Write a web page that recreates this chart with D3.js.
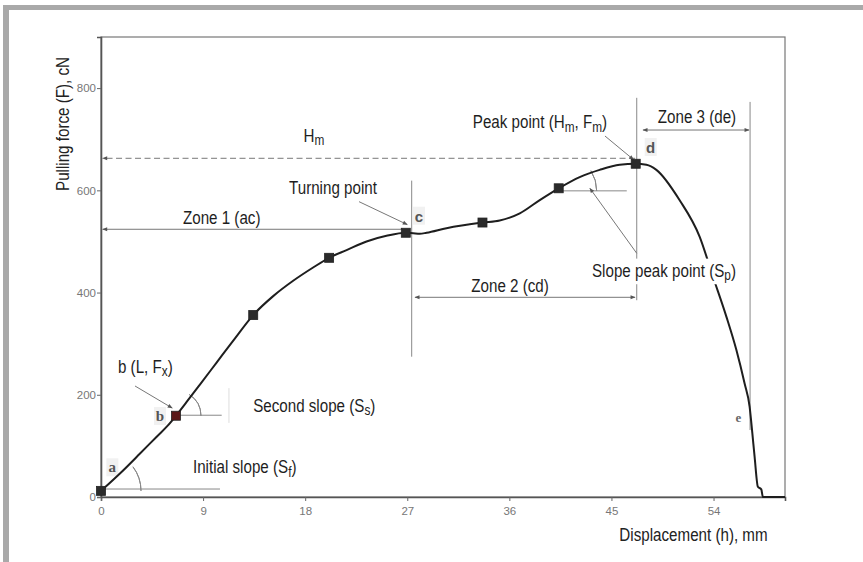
<!DOCTYPE html>
<html>
<head>
<meta charset="utf-8">
<script src="https://d3js.org/d3.v7.min.js"></script>
<style>
  html, body { margin: 0; padding: 0; background: #fff; }
  svg { display: block; }
  .tick text { fill: #777; font-family: "Liberation Sans", Arial, sans-serif; font-size: 11.5px; }
  .tick line { stroke: #666; }
</style>
</head>
<body>
<div id="chart"></div>
<script>
// pulling force vs displacement
const dispX = [0, 1.67, 3.44, 4.91, 5.9, 6.61, 7.55, 8.72, 10.19, 11.66, 13.42, 15.18, 16.94, 18.7, 20.11,
  21.65, 23.41, 25.17, 26.87, 27.52, 28.1, 28.7, 30.46, 33.63, 35.15, 36.92, 38.68, 40.35, 42.2, 43.96,
  45.73, 47.14, 48.08, 48.96, 51, 52.78, 53.95, 55.13, 56.01, 56.74, 57.18, 57.42, 57.62, 57.91, 58.21, 58.35, 60.3];
const forceY = [12, 46, 85, 118, 140, 159, 186, 220, 263, 306, 356, 393, 423, 449, 468,
  483, 500, 511, 517, 516, 515, 517, 526, 537, 541, 555, 581, 604, 626, 640,
  650, 652, 650, 640, 581, 509, 431, 353, 288, 222, 177, 125, 79, 20, 15, 0, 0];

// square markers on the curve (a, b, ..., c, ..., d)
const markerX = [0, 6.61, 13.42, 20.11, 26.87, 33.63, 40.35, 47.14];
const markerY = [12, 159, 356, 468, 517, 537, 604, 652];

const xTicks = [0, 9, 18, 27, 36, 45, 54];
const yTicks = [0, 200, 400, 600, 800];

// annotation lines in data units: [x1, y1, x2, y2]
const guideLines = [
  [27.39, 619, 27.39, 274.5],
  [47.23, 781, 47.23, 385],
  [57.22, 773, 57.22, 131],
  [6.61, 160, 10.64, 160],
  [0.35, 15.6, 10.49, 15.6],
  [40.35, 599, 46.35, 599]
];
const arrowLines = [
  [26.6, 523.8, 0.15, 523.8, 'end'],
  [27.68, 390.7, 47.08, 390.7, 'both'],
  [47.78, 718, 57.13, 718, 'both'],
  [22.75, 577.8, 27.0, 533, 'end'],
  [44.43, 706.3, 46.95, 660, 'end'],
  [3.0, 217.2, 6.28, 174, 'end'],
  [47.23, 476.8, 43.1, 604, 'end']
];
const hmLine = [47.08, 662.7, 0.15, 662.7];
const faintLine = [11.28, 213, 11.28, 145];

// angle arcs: [marker index, radius px, angle deg]
const arcs = [[0, 40, 37], [1, 25, 58], [6, 38, 32]];

// labels: [x, y, text, style, white box]   _x means subscript x
const labels = [
  [18.78, 708.3, 'H_m', 'big', false],
  [10.64, 547.8, 'Zone 1 (ac)', 'big', false],
  [20.45, 606.5, 'Turning point', 'big', false],
  [38.7, 734.3, 'Peak point (H_m, F_m)', 'big', false],
  [52.54, 744, 'Zone 3 (de)', 'big', false],
  [36.06, 414.8, 'Zone 2 (cd)', 'big', false],
  [49.63, 444.1, 'Slope peak point (S_p)', 'big', true],
  [3.91, 256.3, 'b (L, F_x)', 'big', false],
  [18.8, 180, 'Second slope (S_s)', 'big', false],
  [12.67, 59.3, 'Initial slope (S_f)', 'big', false],
  [28.03, 550.4, 'c', 'pt', false],
  [48.46, 684.8, 'd', 'pt', false],
  [1.0, 58.1, 'a', 'serif', false],
  [5.2, 158.5, 'b', 'serif', false],
  [56.18, 157.1, 'e', 'serifSmall', false]
];

const W = 863, H = 562;
const sans = '"Liberation Sans", Arial, sans-serif';
const squeeze = 0.82; // the figure uses a narrow face; squeeze Liberation Sans to match

const svg = d3.select('#chart').append('svg').attr('width', W).attr('height', H);

// grey page border, top and left
svg.append('rect').attr('x', 3).attr('y', 5).attr('width', W - 3).attr('height', 5).attr('fill', '#a9a9a9');
svg.append('rect').attr('x', 3).attr('y', 5).attr('width', 6).attr('height', H - 5).attr('fill', '#a9a9a9');

const x = d3.scaleLinear().domain([0, 60.3]).range([101, 785]);
const y = d3.scaleLinear().domain([0, 900]).range([497, 37]);

const defs = svg.append('defs');
defs.append('marker').attr('id', 'ah')
  .attr('viewBox', '0 0 10 10').attr('refX', 9).attr('refY', 5)
  .attr('markerWidth', 7).attr('markerHeight', 5).attr('orient', 'auto-start-reverse')
  .attr('markerUnits', 'userSpaceOnUse')
  .append('path').attr('d', 'M0,1 L10,5 L0,9 Z').attr('fill', '#555');

// plot frame
svg.append('rect')
  .attr('x', x(0)).attr('y', y(900))
  .attr('width', x(60.3) - x(0)).attr('height', y(0) - y(900))
  .attr('fill', 'none').attr('stroke', '#777').attr('stroke-width', 1.2);

svg.append('g').attr('transform', 'translate(0,' + y(0) + ')')
  .call(d3.axisBottom(x).tickValues(xTicks).tickSize(4).tickPadding(6))
  .call(g => g.select('.domain').attr('stroke', '#555').attr('stroke-width', 1.6));

svg.append('g').attr('transform', 'translate(' + x(0) + ',0)')
  .call(d3.axisLeft(y).tickValues(yTicks).tickSize(4).tickPadding(1))
  .call(g => g.select('.domain').attr('stroke', '#555').attr('stroke-width', 1.6));

// axis titles
svg.append('text')
  .attr('transform', 'translate(63,124) rotate(-90) scale(' + squeeze + ',1)')
  .attr('text-anchor', 'middle').attr('dominant-baseline', 'central')
  .attr('font-family', sans).attr('font-size', 18.5).attr('fill', '#222')
  .text('Pulling force (F), cN');
svg.append('text')
  .attr('transform', 'translate(693.5,535) scale(' + squeeze + ',1)')
  .attr('text-anchor', 'middle').attr('dominant-baseline', 'central')
  .attr('font-family', sans).attr('font-size', 18.5).attr('fill', '#222')
  .text('Displacement (h), mm');

// guides
svg.append('line').attr('x1', x(faintLine[0])).attr('y1', y(faintLine[1]))
  .attr('x2', x(faintLine[2])).attr('y2', y(faintLine[3]))
  .attr('stroke', '#ddd').attr('stroke-width', 1);

svg.append('g').selectAll('line').data(guideLines).join('line')
  .attr('x1', d => x(d[0])).attr('y1', d => y(d[1]))
  .attr('x2', d => x(d[2])).attr('y2', d => y(d[3]))
  .attr('stroke', '#888').attr('stroke-width', 1);

svg.append('line')
  .attr('x1', x(hmLine[0])).attr('y1', y(hmLine[1]))
  .attr('x2', x(hmLine[2])).attr('y2', y(hmLine[3]))
  .attr('stroke', '#777').attr('stroke-width', 1).attr('stroke-dasharray', '6,3.5')
  .attr('marker-end', 'url(#ah)');

svg.append('g').selectAll('line').data(arrowLines).join('line')
  .attr('x1', d => x(d[0])).attr('y1', d => y(d[1]))
  .attr('x2', d => x(d[2])).attr('y2', d => y(d[3]))
  .attr('stroke', '#777').attr('stroke-width', 1)
  .attr('marker-end', 'url(#ah)')
  .attr('marker-start', d => d[4] === 'both' ? 'url(#ah)' : null);

// angle arcs
const arcGen = d3.arc();
svg.append('g').selectAll('path').data(arcs).join('path')
  .attr('transform', d => 'translate(' + x(markerX[d[0]]) + ',' + y(markerY[d[0]] + (d[0] === 6 ? -5 : 0)) + ')')
  .attr('d', d => arcGen({ innerRadius: d[1], outerRadius: d[1], startAngle: Math.PI / 2 - d[2] * Math.PI / 180, endAngle: Math.PI / 2 }))
  .attr('fill', 'none').attr('stroke', '#888').attr('stroke-width', 1);

// light boxes behind point letters
const ptLabels = labels.filter(d => d[3] === 'pt' || d[3] === 'serif');
svg.append('g').selectAll('rect').data(ptLabels).join('rect')
  .attr('x', d => x(d[0]) - 6).attr('y', d => y(d[1]) - 9)
  .attr('width', 12).attr('height', 18).attr('fill', '#f1f1f1');

// the curve
const line = d3.line().x(d => x(d[0])).y(d => y(d[1])).curve(d3.curveMonotoneX);
svg.append('path')
  .datum(dispX.map((v, i) => [v, forceY[i]]))
  .attr('d', line)
  .attr('fill', 'none').attr('stroke', '#1e1e1e').attr('stroke-width', 2)
  .attr('stroke-linejoin', 'round');

// markers
svg.append('g').selectAll('rect').data(markerX).join('rect')
  .attr('x', (d, i) => x(d) - 4.5).attr('y', (d, i) => y(markerY[i]) - 4.5)
  .attr('width', 9).attr('height', 9)
  .attr('fill', (d, i) => i === 1 ? '#5a1818' : '#2b2b2b')
  .attr('stroke', '#222').attr('stroke-width', 0.8);

// text labels with subscripts
const styles = {
  big: { family: sans, size: 18.5, weight: 400, fill: '#1e1e1e', sx: squeeze },
  pt: { family: sans, size: 15, weight: 700, fill: '#555', sx: 1 },
  serif: { family: '"Liberation Serif", "Times New Roman", serif', size: 15, weight: 700, fill: '#555', sx: 1 },
  serifSmall: { family: '"Liberation Serif", "Times New Roman", serif', size: 13, weight: 700, fill: '#666', sx: 1 }
};

labels.forEach(d => {
  const s = styles[d[3]];
  const g = svg.append('g').attr('transform', 'translate(' + x(d[0]) + ',' + y(d[1]) + ')');
  const box = d[4] ? g.append('rect').attr('fill', '#fff') : null;
  const t = g.append('text')
    .attr('transform', 'scale(' + s.sx + ',1)')
    .attr('text-anchor', 'middle').attr('dominant-baseline', 'central')
    .attr('font-family', s.family).attr('font-size', s.size)
    .attr('font-weight', s.weight).attr('fill', s.fill);
  const parts = d[2].split(/(_\w)/).filter(p => p.length);
  let shifted = false;
  parts.forEach(p => {
    if (p[0] === '_') {
      t.append('tspan').attr('dy', 5).attr('font-size', s.size * 0.78).text(p.slice(1));
      shifted = true;
    } else {
      t.append('tspan').attr('dy', shifted ? -5 : null).text(p);
      shifted = false;
    }
  });
  if (box) {
    const bb = t.node().getBBox();
    box.attr('x', bb.x * s.sx - 3).attr('y', bb.y - 1)
      .attr('width', bb.width * s.sx + 6).attr('height', bb.height + 2);
  }
});
</script>
</body>
</html>
